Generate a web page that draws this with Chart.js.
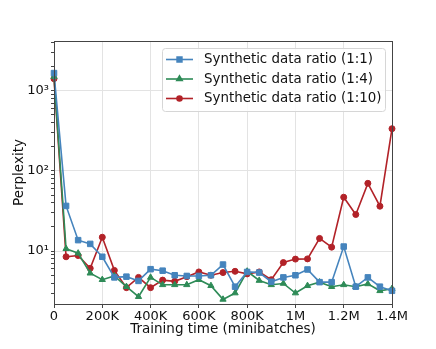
<!DOCTYPE html>
<html>
<head>
<meta charset="utf-8">
<script src="https://cdn.jsdelivr.net/npm/chart.js@4/dist/chart.umd.min.js"></script>
<style>
    html, body { margin: 0; padding: 0; background: #fff; }
    #wrap { width: 436px; height: 349px; }
</style>
</head>
<body>
<div id="wrap"><canvas id="chart" width="436" height="349"></canvas></div>
<script>
// Data
const steps = [0, 50000, 100000, 150000, 200000, 250000, 300000, 350000, 400000, 450000,
    500000, 550000, 600000, 650000, 700000, 750000, 800000, 850000, 900000, 950000,
    1000000, 1050000, 1100000, 1150000, 1200000, 1250000, 1300000, 1350000, 1400000];

const ratio1to1 = [1660, 36.6, 13.7, 12.3, 8.5, 4.7, 4.8, 4.25, 5.95, 5.7,
    5.0, 4.9, 4.9, 5.0, 6.8, 3.6, 5.5, 5.4, 4.15, 4.7,
    5.0, 5.9, 4.1, 4.1, 11.4, 3.6, 4.7, 3.6, 3.2];

const ratio1to4 = [1500, 10.7, 9.4, 5.3, 4.4, 4.9, 3.6, 2.7, 4.7, 3.8,
    3.8, 3.8, 4.4, 3.7, 2.5, 3.0, 5.6, 4.3, 3.8, 3.95,
    3.0, 3.7, 4.1, 3.6, 3.8, 3.6, 3.9, 3.2, 3.4];

const ratio1to10 = [1410, 8.5, 8.8, 6.1, 14.9, 5.75, 3.5, 4.7, 3.5, 4.35,
    4.2, 4.8, 5.5, 5.0, 5.4, 5.6, 5.2, 5.5, 4.4, 7.2,
    7.95, 8.0, 14.4, 11.2, 47, 28.6, 70, 36.3, 336];

const seriesNames = ['Synthetic data ratio (1:1)', 'Synthetic data ratio (1:4)', 'Synthetic data ratio (1:10)'];
const xTickLabels = { 0: '0', 200000: '200K', 400000: '400K', 600000: '600K', 800000: '800K',
    1000000: '1M', 1200000: '1.2M', 1400000: '1.4M' };
const yMajorTicks = [10, 100, 1000];
const yMajorLabels = ['10\u00b9', '10\u00b2', '10\u00b3'];

const FONT = "'DejaVu Sans', sans-serif";
const colors = ['#4584bd', '#2e8b57', '#b22228'];

function toPoints(values) {
    return values.map((v, i) => ({ x: steps[i], y: v }));
}

function isMajor(v) {
    const l = Math.log10(v);
    return Math.abs(l - Math.round(l)) < 1e-9;
}

// Frame around the plot area
const framePlugin = {
    id: 'frame',
    afterDatasetsDraw(chart) {
        const { ctx, chartArea: a } = chart;
        ctx.save();
        ctx.strokeStyle = '#444';
        ctx.lineWidth = 1;
        ctx.strokeRect(Math.round(a.left) + 0.5, Math.round(a.top) + 0.5,
            Math.round(a.right - a.left), Math.round(a.bottom - a.top));
        ctx.restore();
    }
};

// Legend box drawn inside the plot, matplotlib style
const legendPlugin = {
    id: 'insideLegend',
    afterDraw(chart) {
        const { ctx } = chart;
        const x0 = 162, y0 = 48, w = 223, h = 63, r = 3;
        ctx.save();
        ctx.beginPath();
        ctx.roundRect(x0 + 0.5, y0 + 0.5, w, h, r);
        ctx.fillStyle = 'rgba(255,255,255,0.85)';
        ctx.fill();
        ctx.strokeStyle = '#d6d6d6';
        ctx.lineWidth = 1;
        ctx.stroke();

        chart.data.datasets.forEach((ds, i) => {
            const y = 59.5 + i * 19.5;
            ctx.strokeStyle = ds.borderColor;
            ctx.lineWidth = 1.6;
            ctx.beginPath();
            ctx.moveTo(166, y);
            ctx.lineTo(193, y);
            ctx.stroke();
            ctx.fillStyle = ds.borderColor;
            ctx.strokeStyle = ds.borderColor;
            Chart.helpers.drawPoint(ctx, {
                pointStyle: ds.pointStyle, radius: ds.pointRadius - 0.5, rotation: 0, borderWidth: 1
            }, 179.5, y);
            ctx.fillStyle = '#111';
            ctx.font = '13.4px ' + FONT;
            ctx.textBaseline = 'middle';
            ctx.fillText(ds.label, 204, y + 0.5);
        });
        ctx.restore();
    }
};

const styles = [
    { pointStyle: 'rect', pointRadius: 3.9 },
    { pointStyle: 'triangle', pointRadius: 3.6 },
    { pointStyle: 'circle', pointRadius: 3 }
];

const chartConfig = {
    type: 'line',
    data: {
        datasets: [ratio1to1, ratio1to4, ratio1to10].map((vals, i) => ({
            label: seriesNames[i],
            data: toPoints(vals),
            borderColor: colors[i],
            backgroundColor: colors[i],
            pointBackgroundColor: colors[i],
            pointBorderColor: colors[i],
            borderWidth: 1.6,
            pointStyle: styles[i].pointStyle,
            pointRadius: styles[i].pointRadius,
            pointBorderWidth: 1,
            tension: 0,
            fill: false,
            clip: 4
        }))
    },
    options: {
        responsive: false,
        animation: false,
        devicePixelRatio: 1,
        layout: { padding: { left: 0, right: 44, top: 41, bottom: 0 } },
        plugins: {
            legend: { display: false },
            tooltip: { enabled: false }
        },
        scales: {
            x: {
                type: 'linear',
                min: 0,
                max: 1400000,
                afterBuildTicks(scale) {
                    scale.ticks = Object.keys(xTickLabels).map(v => ({ value: Number(v) }));
                },
                afterFit(scale) { scale.height = 45; },
                grid: {
                    color: '#e3e3e3',
                    lineWidth: 1,
                    drawTicks: true,
                    tickLength: 4,
                    tickColor: '#444'
                },
                border: { display: false },
                ticks: {
                    autoSkip: false,
                    maxRotation: 0,
                    padding: 1,
                    color: '#111',
                    font: { family: FONT, size: 13 },
                    callback: (v) => xTickLabels[v] ?? ''
                },
                title: {
                    display: true,
                    text: 'Training time (minibatches)',
                    color: '#111',
                    font: { family: FONT, size: 13.5 },
                    padding: { top: 0, bottom: 11 }
                }
            },
            y: {
                type: 'logarithmic',
                min: 2.19,
                max: 4170,
                afterBuildTicks(scale) {
                    const t = [];
                    for (let d = 1; d <= 1000; d *= 10) {
                        for (let m = 1; m <= 9; m++) {
                            const v = m * d;
                            if (v >= 3 && v <= 4000) t.push({ value: v, major: isMajor(v) });
                        }
                    }
                    scale.ticks = t;
                },
                afterFit(scale) { scale.width = 54; },
                grid: {
                    color: (c) => (c.tick && isMajor(c.tick.value)) ? '#e3e3e3' : 'rgba(0,0,0,0)',
                    lineWidth: 1,
                    tickLength: 3,
                    tickColor: '#444'
                },
                border: { display: false },
                ticks: {
                    autoSkip: false,
                    padding: 2,
                    color: '#111',
                    font: { family: FONT, size: 13 },
                    callback: (v) => {
                        const i = yMajorTicks.indexOf(v);
                        return i >= 0 ? yMajorLabels[i] : '';
                    }
                },
                title: {
                    display: true,
                    text: 'Perplexity',
                    color: '#111',
                    font: { family: FONT, size: 13.5 },
                    padding: { top: 11, bottom: 0 }
                }
            }
        }
    },
    plugins: [framePlugin, legendPlugin]
};

document.addEventListener('DOMContentLoaded', () => {
    const ctx = document.getElementById('chart').getContext('2d');
    new Chart(ctx, chartConfig);
});
</script>
</body>
</html>
